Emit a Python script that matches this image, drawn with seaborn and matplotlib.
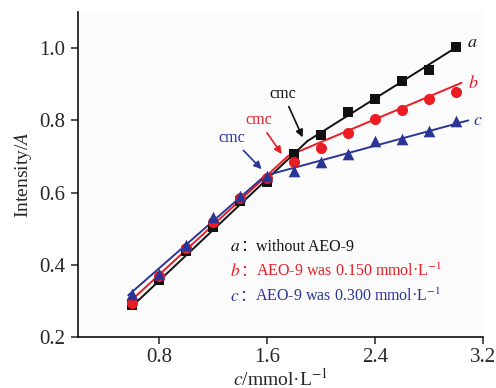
import numpy as np
import pandas as pd
import matplotlib
matplotlib.use("Agg")
import matplotlib.pyplot as plt
import seaborn as sns

# ---- data ----
conc = [0.6, 0.8, 1.0, 1.2, 1.4, 1.6, 1.8, 2.0, 2.2, 2.4, 2.6, 2.8, 3.0]
int_a = [0.290, 0.357, 0.438, 0.506, 0.578, 0.630, 0.708, 0.759, 0.822, 0.858, 0.909, 0.939, 1.004]
int_b = [0.295, 0.370, 0.446, 0.518, 0.585, 0.640, 0.686, 0.725, 0.764, 0.803, 0.828, 0.860, 0.879]
int_c = [0.320, 0.374, 0.454, 0.532, 0.590, 0.645, 0.659, 0.685, 0.707, 0.743, 0.749, 0.771, 0.797]

# fitted two-segment lines (vertices)
fit_a_x = [0.597, 1.90, 3.03]
fit_a_y = [0.284, 0.743, 1.009]
fit_b_x = [0.59, 1.758, 3.04]
fit_b_y = [0.300, 0.702, 0.904]
fit_c_x = [0.573, 1.585, 3.09]
fit_c_y = [0.316, 0.647, 0.800]

series = ["a", "b", "c"]
legend_text = ["without AEO-9", "AEO-9 was 0.150 mmol·L$^{-1}$", "AEO-9 was 0.300 mmol·L$^{-1}$"]
x_ticks = [0.8, 1.6, 2.4, 3.2]
y_ticks = [0.2, 0.4, 0.6, 0.8, 1.0]

colors = {"a": "#111111", "b": "#ec1c24", "c": "#2b3595"}
markers = {"a": "s", "b": "o", "c": "^"}
sizes = {"a": 48, "b": 64, "c": 70}

pts = pd.DataFrame({
    "x": conc * 3,
    "y": int_a + int_b + int_c,
    "s": ["a"] * len(conc) + ["b"] * len(conc) + ["c"] * len(conc),
})
fits = pd.DataFrame({
    "x": fit_a_x + fit_b_x + fit_c_x,
    "y": fit_a_y + fit_b_y + fit_c_y,
    "s": ["a"] * 3 + ["b"] * 3 + ["c"] * 3,
})

sns.set_style("ticks")
plt.rcParams["font.family"] = ["Liberation Serif", "Noto Sans CJK SC"]
plt.rcParams["mathtext.fontset"] = "stix"

fig = plt.figure(figsize=(4.96, 3.88), dpi=100)
fig.patch.set_facecolor("white")
ax = fig.add_axes([0.157, 0.131, 0.817, 0.838])
ax.set_facecolor("#fbfbfb")

for s in series:
    sub = fits[fits.s == s]
    sns.lineplot(data=sub, x="x", y="y", ax=ax, color=colors[s], lw=1.4,
                 sort=False, estimator=None, legend=False)
for s in series:
    sub = pts[pts.s == s]
    sns.scatterplot(data=sub, x="x", y="y", ax=ax, color=colors[s],
                    marker=markers[s], s=sizes[s], edgecolor=colors[s],
                    linewidth=0, legend=False, zorder=3)

ax.set_xlim(0.2, 3.2)
ax.set_ylim(0.2, 1.1)
ax.set_xticks(x_ticks)
ax.set_yticks(y_ticks)
ax.set_xticklabels([f"{v:.1f}" for v in x_ticks])
ax.set_yticklabels([f"{v:.1f}" for v in y_ticks])
ax.tick_params(axis="both", direction="out", length=5, width=1.1, labelsize=15, pad=4)
ax.tick_params(axis="x", pad=3)
for side in ["top", "right"]:
    ax.spines[side].set_visible(False)
for side in ["left", "bottom"]:
    ax.spines[side].set_linewidth(1.2)
    ax.spines[side].set_color("#111111")

ax.set_xlabel("$c$/mmol·L$^{-1}$", fontsize=14, labelpad=0)
ax.set_ylabel("Intensity/$A$", fontsize=14, labelpad=4)

# series labels at line ends
lab_pos = {"a": (3.12, 1.017), "b": (3.126, 0.903), "c": (3.163, 0.801)}
for s in series:
    ax.text(*lab_pos[s], f"${s}$", color=colors[s], fontsize=13,
            ha="center", va="center", clip_on=False)

# cmc annotations
ann = {
    "a": ((1.864, 0.753), (1.72, 0.873)),
    "b": ((1.709, 0.707), (1.536, 0.800)),
    "c": ((1.56, 0.665), (1.338, 0.751)),
}
for s in series:
    tip, txt = ann[s]
    ax.annotate("cmc", xy=tip, xytext=txt, color=colors[s], fontsize=11.5,
                ha="center", va="center",
                arrowprops=dict(arrowstyle="-|>", color=colors[s], lw=1.2,
                                mutation_scale=11, shrinkA=1, shrinkB=0))

# legend-like text block: italic letter, full-width colon, description
leg_y = [0.438, 0.369, 0.300]
for s, t, yy in zip(series, legend_text, leg_y):
    t1 = ax.text(1.326, yy, f"${s}$", color=colors[s], fontsize=12.5,
                 ha="left", va="baseline")
    t2 = ax.annotate("：", xy=(1, yy), xycoords=(t1, "data"), color=colors[s],
                     fontsize=11.5, ha="left", va="baseline",
                     family=["Noto Sans CJK SC"])
    ax.annotate(t, xy=(1, yy), xycoords=(t2, "data"), color=colors[s],
                fontsize=11.5, ha="left", va="baseline")

fig.savefig("out.png", dpi=100)
